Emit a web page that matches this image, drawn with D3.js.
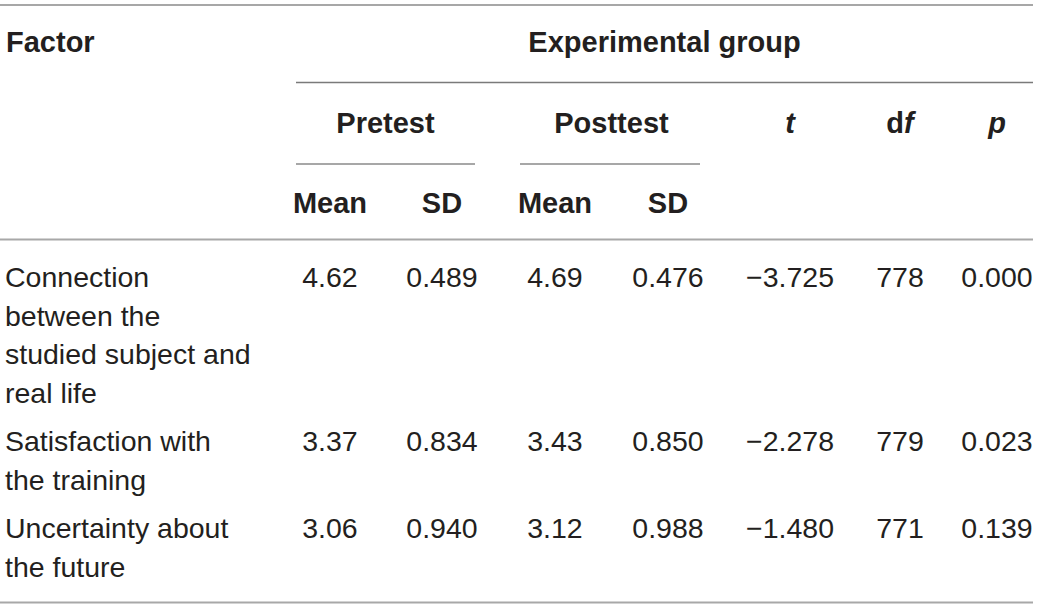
<!DOCTYPE html>
<html>
<head>
<meta charset="utf-8">
<script src="https://cdn.jsdelivr.net/npm/d3@7"></script>
<style>
  html, body { margin: 0; padding: 0; background: #fff; }
  svg { display: block; }
</style>
</head>
<body>
<div id="chart"></div>
<script>
// ---- data ----
const factors = [
  ["Connection", "between the", "studied subject and", "real life"],
  ["Satisfaction with", "the training"],
  ["Uncertainty about", "the future"]
];
const preMean  = ["4.62", "3.37", "3.06"];
const preSD    = ["0.489", "0.834", "0.940"];
const postMean = ["4.69", "3.43", "3.12"];
const postSD   = ["0.476", "0.850", "0.988"];
const tVals    = ["\u22123.725", "\u22122.278", "\u22121.480"];
const dfVals   = ["778", "779", "771"];
const pVals    = ["0.000", "0.023", "0.139"];

const columnKeys = ["preMean", "preSD", "postMean", "postSD", "t", "df", "p"];
const columnData = { preMean, preSD, postMean, postSD, t: tVals, df: dfVals, p: pVals };

// ---- layout ----
const W = 1039, H = 609;
const FONT = "'Liberation Sans', Arial, Helvetica, sans-serif";
const textColor = "#231f20";
const x = d3.scaleOrdinal(columnKeys, [330, 442, 555, 668, 790, 900, 997]);
const tableLeft = 0, tableRight = 1033, groupLeft = 296;

const svg = d3.select("#chart").append("svg")
  .attr("width", W).attr("height", H);

function hline(x1, x2, y, color, w) {
  svg.append("line").attr("x1", x1).attr("x2", x2).attr("y1", y).attr("y2", y)
    .attr("stroke", color).attr("stroke-width", w);
}

// rules
hline(tableLeft, tableRight, 5, "#8a8a8a", 1.6);
hline(groupLeft, tableRight, 82.5, "#7a7a7a", 1.6);
hline(296, 475, 164, "#8a8a8a", 1.6);
hline(520, 700, 164, "#8a8a8a", 1.6);
hline(tableLeft, tableRight, 239.5, "#a8a8a8", 2);
hline(tableLeft, tableRight, 602.5, "#a8a8a8", 2);

// header
const hdr = svg.append("g")
  .attr("font-family", FONT).attr("font-weight", "bold")
  .attr("font-size", 29).attr("fill", textColor);

hdr.append("text").attr("x", 6).attr("y", 52).text("Factor");
hdr.append("text").attr("x", (groupLeft + tableRight) / 2).attr("y", 52)
  .attr("text-anchor", "middle").text("Experimental group");
hdr.append("text").attr("x", (x("preMean") + x("preSD")) / 2 - 0.5).attr("y", 133)
  .attr("text-anchor", "middle").text("Pretest");
hdr.append("text").attr("x", (x("postMean") + x("postSD")) / 2).attr("y", 133)
  .attr("text-anchor", "middle").text("Posttest");

hdr.append("text").attr("x", x("t")).attr("y", 133).attr("text-anchor", "middle")
  .attr("font-style", "italic").text("t");
const dfT = hdr.append("text").attr("x", x("df")).attr("y", 133).attr("text-anchor", "middle");
dfT.append("tspan").text("d");
dfT.append("tspan").attr("font-style", "italic").text("f");
hdr.append("text").attr("x", x("p")).attr("y", 133).attr("text-anchor", "middle")
  .attr("font-style", "italic").text("p");

const subHeads = [["preMean", "Mean"], ["preSD", "SD"], ["postMean", "Mean"], ["postSD", "SD"]];
hdr.selectAll("text.sub").data(subHeads).join("text")
  .attr("class", "sub")
  .attr("x", d => x(d[0])).attr("y", 213).attr("text-anchor", "middle")
  .text(d => d[1]);

// body rows
const lineH = 38.8, rowGap = 9.1, firstBaseline = 286.7;
const rowStarts = [];
let yCur = firstBaseline;
factors.forEach((lines, i) => {
  rowStarts.push(yCur);
  yCur += lines.length * lineH + rowGap;
});

const body = svg.append("g")
  .attr("font-family", FONT).attr("font-size", 28.5).attr("fill", textColor);

factors.forEach((lines, i) => {
  const t = body.append("text").attr("x", 5).attr("y", rowStarts[i]);
  lines.forEach((ln, k) => {
    t.append("tspan").attr("x", 5).attr("y", rowStarts[i] + k * lineH).text(ln);
  });
  columnKeys.forEach(key => {
    body.append("text")
      .attr("x", x(key)).attr("y", rowStarts[i])
      .attr("text-anchor", "middle")
      .text(columnData[key][i]);
  });
});
</script>
</body>
</html>
